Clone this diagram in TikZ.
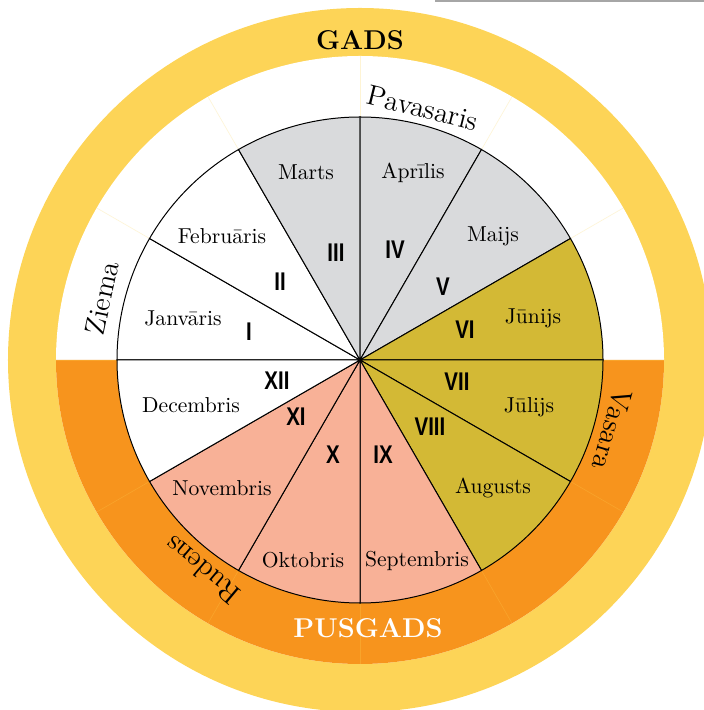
\documentclass[tikz,border=0pt]{standalone}
\usepackage{fontspec}
\newfontfamily\romfont[FakeStretch=0.8]{Liberation Sans}
\definecolor{ringY}{HTML}{FDD457}
\definecolor{ringO}{HTML}{F7941D}
\definecolor{sprC}{HTML}{D9DADC}
\definecolor{sumC}{HTML}{D3B935}
\definecolor{autC}{HTML}{F8B197}
\begin{document}
\begin{tikzpicture}[x=0.5pt,y=0.5pt,
  month/.style={inner sep=0pt,font=\fontsize{10.8}{13}\selectfont},
  roman/.style={inner sep=0pt,font=\romfont\bfseries\fontsize{12.8}{15}\selectfont},
  season/.style={inner sep=0pt,font=\fontsize{14.2}{17}\selectfont},
  title/.style={inner sep=0pt,font=\bfseries\fontsize{13.6}{16}\selectfont},
  sector/.style={draw=black,line width=0.5pt},
  faint/.style={draw=ringY,line width=0.3pt,opacity=0.25}]
\clip (-360,-350) rectangle (344,360);
\useasboundingbox (-360,-350) rectangle (344,360);
% outer ring
\fill[ringY] (0,0) circle[radius=352];
% season ring
\fill[white] (0,0) circle[radius=304];
\fill[ringO] (-304,0) arc[start angle=180,end angle=360,radius=304] -- cycle;
\foreach \a in {0,30,...,330}
  \draw[faint] (\a:243) -- (\a:304);
% month sectors
\foreach \a/\c in {150/white,120/white,90/sprC,60/sprC,30/sprC,0/sumC,-30/sumC,-60/sumC,-90/autC,-120/autC,-150/autC,-180/white}
  \filldraw[sector,fill=\c] (0,0) -- (\a:243) arc[start angle=\a,end angle=\a+30,radius=243] -- cycle;
% month names
\node[month] (jan) at (-177,42) {Janvāris};
\node[month] (feb) at (-138,124) {Februāris};
\node[month] (mar) at (-54,188) {Marts};
\node[month] (apr) at (53,187) {Aprīlis};
\node[month] (mai) at (133,124) {Maijs};
\node[month] (jun) at (173,42) {Jūnijs};
\node[month] (jul) at (169,-47) {Jūlijs};
\node[month] (aug) at (133,-128) {Augusts};
\node[month] (sep) at (57,-201) {Septembris};
\node[month] (okt) at (-57,-200) {Oktobris};
\node[month] (nov) at (-138,-128) {Novembris};
\node[month] (dec) at (-169,-45) {Decembris};
% roman numerals
\node[roman] (r1) at (-111,28) {I};
\node[roman] (r2) at (-80,78) {II};
\node[roman] (r3) at (-24,107) {III};
\node[roman] (r4) at (35,110) {IV};
\node[roman] (r5) at (83,73) {V};
\node[roman] (r6) at (105,30) {VI};
\node[roman] (r7) at (97,-22) {VII};
\node[roman] (r8) at (70,-67) {VIII};
\node[roman] (r9) at (23,-95) {IX};
\node[roman] (r10) at (-27,-95) {X};
\node[roman] (r11) at (-64,-57) {XI};
\node[roman] (r12) at (-83,-21) {XII};
% seasons
\node[season,rotate=-14] (pav) at (63,252) {Pavasaris};
\node[season,rotate=78] (zie) at (-258,62) {Ziema};
\node[season,rotate=-106] (vas) at (252,-70) {Vasara};
\node[season,rotate=140] (rud) at (-158,-210) {Rudens};
% titles
\node[title] (gads) at (0,320) {GADS};
\node[title,text=white] (pusgads) at (8,-268) {PUSGADS};
% top edge line
\coordinate (t1) at (75,359);
\coordinate (t2) at (344,359);
\draw[gray!70,line width=1pt] (t1) -- (t2);
\end{tikzpicture}
\end{document}
